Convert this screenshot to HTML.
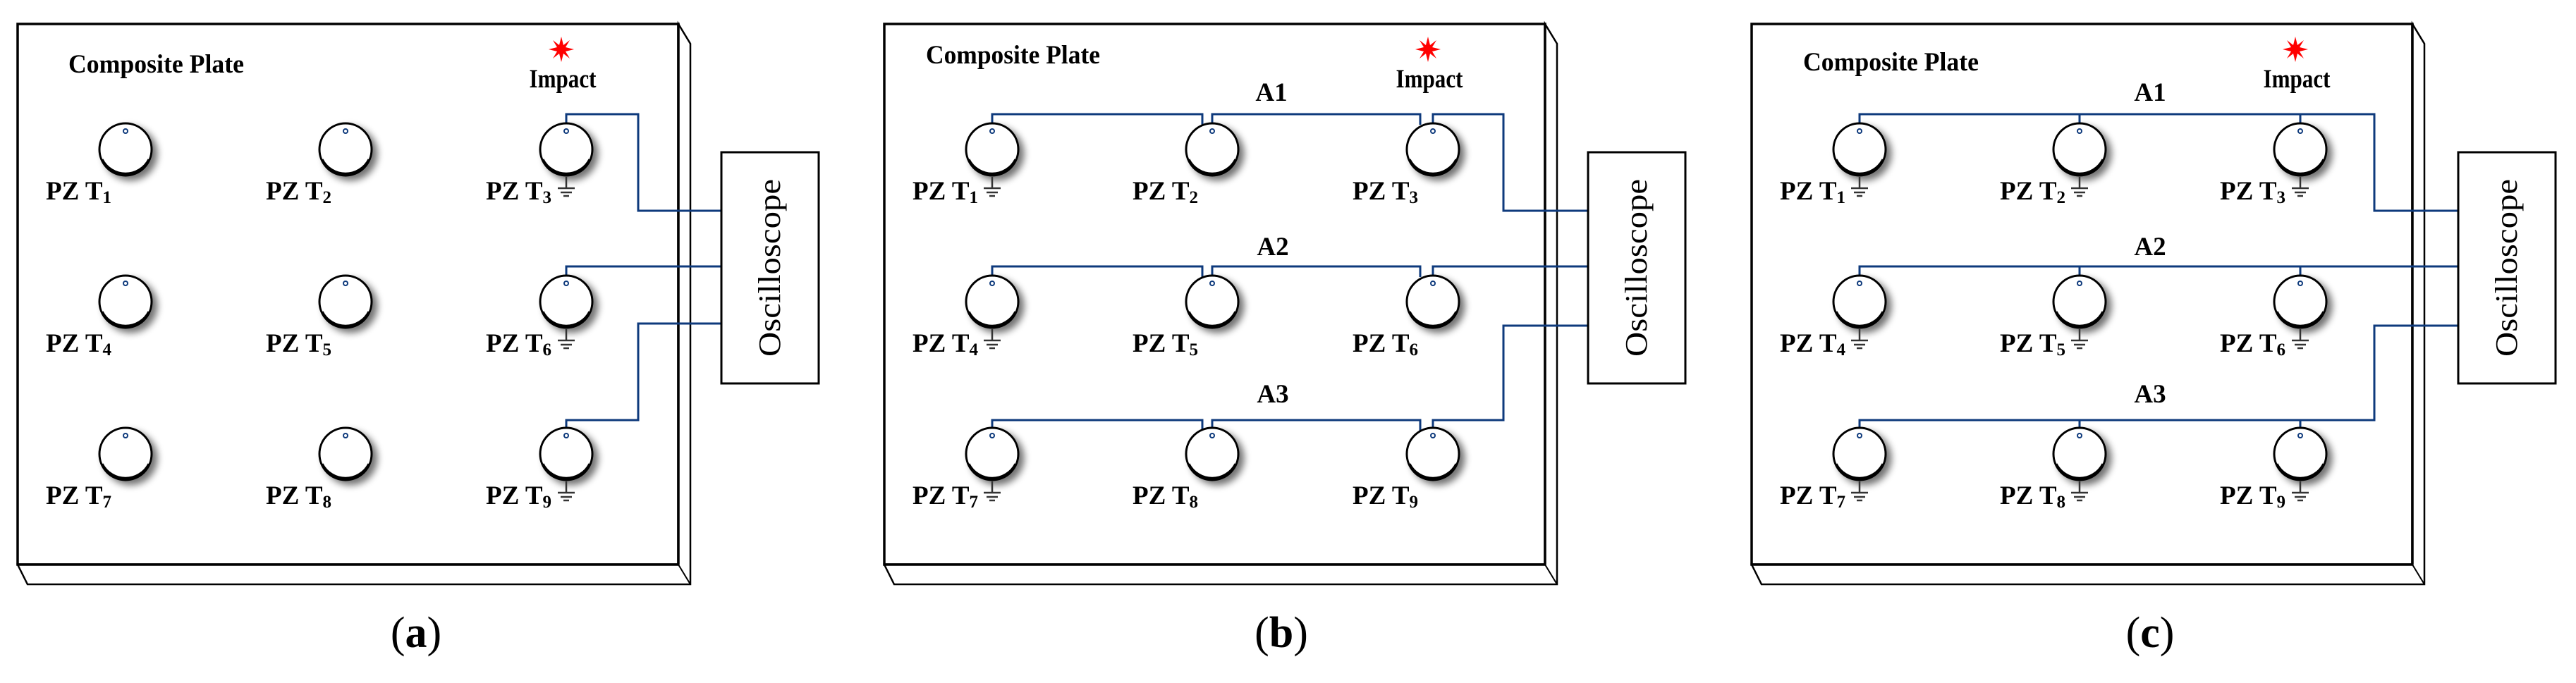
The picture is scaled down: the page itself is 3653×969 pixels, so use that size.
<!DOCTYPE html>
<html><head><meta charset="utf-8">
<style>
html,body{margin:0;padding:0;background:#fff;}
svg{display:block;font-family:"Liberation Serif","DejaVu Serif",serif;}
svg text{font-family:"Liberation Serif","DejaVu Serif",serif;}
.lbl{font-weight:bold;font-size:37px;fill:#000;}
.sub{font-size:25px;}
.w{fill:none;stroke:#0e3a7c;stroke-width:3;}
</style></head>
<body>
<svg width="3653" height="969" viewBox="0 0 3653 969" xmlns="http://www.w3.org/2000/svg">
<defs>
<filter id="sh" x="-50%" y="-50%" width="200%" height="200%">
<feGaussianBlur in="SourceAlpha" stdDeviation="5"/>
<feOffset dx="7" dy="6" result="b"/>
<feComponentTransfer><feFuncA type="linear" slope="0.55"/></feComponentTransfer>
<feMerge><feMergeNode/><feMergeNode in="SourceGraphic"/></feMerge>
</filter>
<g id="pzt">
<ellipse cx="0" cy="0" rx="37" ry="37" fill="#fff" stroke="#000" stroke-width="3" filter="url(#sh)"/>
<path d="M-33,14 A37,37 0 0 0 33,14" fill="none" stroke="#000" stroke-width="3"/>
<circle cx="0" cy="-26" r="3" fill="#fff" stroke="#0e3a7c" stroke-width="2"/>
</g>
<g id="gnd" stroke="#333" stroke-width="2.5">
<line x1="0" y1="39" x2="0" y2="55"/>
<line x1="-12" y1="55" x2="12" y2="55"/>
<line x1="-8" y1="61" x2="8" y2="61"/>
<line x1="-4" y1="66" x2="4" y2="66"/>
</g>
<g id="star" fill="#f00">
<polygon points="0,-18 3,-6 12,-13 6,-3 18,0 6,3 12,13 3,6 0,18 -3,6 -12,13 -6,3 -18,0 -6,-3 -12,-13 -3,-6"/>
</g>
<g id="plate">
<rect x="25" y="34" width="937" height="767" fill="#fff" stroke="#000" stroke-width="3.5"/>
<polygon points="25,801 39,829 979,829 979,62 962,34 962,801" fill="#fff" stroke="#000" stroke-width="2.5"/>
<line x1="962" y1="801" x2="979" y2="829" stroke="#000" stroke-width="2"/>
<line x1="25" y1="801" x2="962" y2="801" stroke="#000" stroke-width="3.5"/>
<line x1="962" y1="34" x2="962" y2="801" stroke="#000" stroke-width="3.5"/>
</g>
<g id="osc">
<rect x="1023" y="216" width="138" height="328" fill="#fff" stroke="#000" stroke-width="3"/>
<text transform="translate(1106,380) rotate(-90)" text-anchor="middle" font-size="44" textLength="252" lengthAdjust="spacingAndGlyphs">Oscilloscope</text>
</g>
<g id="pzts">
<use href="#pzt" x="178" y="212"/><use href="#pzt" x="490" y="212"/><use href="#pzt" x="803" y="212"/>
<use href="#pzt" x="178" y="428"/><use href="#pzt" x="490" y="428"/><use href="#pzt" x="803" y="428"/>
<use href="#pzt" x="178" y="644"/><use href="#pzt" x="490" y="644"/><use href="#pzt" x="803" y="644"/>
<text class="lbl" x="65" y="283">PZ T<tspan class="sub" dy="5">1</tspan></text>
<text class="lbl" x="377" y="283">PZ T<tspan class="sub" dy="5">2</tspan></text>
<text class="lbl" x="689" y="283">PZ T<tspan class="sub" dy="5">3</tspan></text>
<text class="lbl" x="65" y="499">PZ T<tspan class="sub" dy="5">4</tspan></text>
<text class="lbl" x="377" y="499">PZ T<tspan class="sub" dy="5">5</tspan></text>
<text class="lbl" x="689" y="499">PZ T<tspan class="sub" dy="5">6</tspan></text>
<text class="lbl" x="65" y="715">PZ T<tspan class="sub" dy="5">7</tspan></text>
<text class="lbl" x="377" y="715">PZ T<tspan class="sub" dy="5">8</tspan></text>
<text class="lbl" x="689" y="715">PZ T<tspan class="sub" dy="5">9</tspan></text>
<use href="#star" x="796" y="70"/>
<text class="lbl" x="798" y="124" text-anchor="middle" font-size="30" textLength="95" lengthAdjust="spacingAndGlyphs">Impact</text>
</g>
</defs>

<!-- Panel a -->
<g>
<use href="#plate"/>
<text class="lbl" x="97" y="103" font-size="34" textLength="249" lengthAdjust="spacingAndGlyphs">Composite Plate</text>
<path class="w" d="M803,186 V162 H905 V299 H1023"/>
<path class="w" d="M803,402 V378 H1023"/>
<path class="w" d="M803,618 V596 H905 V459 H1023"/>
<use href="#pzts"/>
<use href="#gnd" x="803" y="212"/><use href="#gnd" x="803" y="428"/><use href="#gnd" x="803" y="644"/>
<use href="#osc"/>
<text x="590" y="918" text-anchor="middle" font-size="62">(<tspan font-weight="bold">a</tspan>)</text>
</g>

<!-- Panel b -->
<g transform="translate(1229,0)">
<use href="#plate"/>
<text class="lbl" x="84" y="90" font-size="34" textLength="247" lengthAdjust="spacingAndGlyphs">Composite Plate</text>
<path class="w" d="M178,186 V162 H476 V177"/>
<path class="w" d="M490,186 V162 H785 V177"/>
<path class="w" d="M803,186 V162 H903 V299 H1023"/>
<path class="w" d="M178,402 V378 H476 V393"/>
<path class="w" d="M490,402 V378 H785 V393"/>
<path class="w" d="M803,402 V378 H1023"/>
<path class="w" d="M178,618 V596 H476 V611"/>
<path class="w" d="M490,618 V596 H785 V611"/>
<path class="w" d="M803,618 V596 H903 V462 H1023"/>
<use href="#pzts"/>
<use href="#gnd" x="178" y="212"/><use href="#gnd" x="178" y="428"/><use href="#gnd" x="178" y="644"/>
<text class="lbl" x="574" y="143" text-anchor="middle">A1</text>
<text class="lbl" x="576" y="362" text-anchor="middle">A2</text>
<text class="lbl" x="576" y="571" text-anchor="middle">A3</text>
<use href="#osc"/>
<text x="588" y="918" text-anchor="middle" font-size="62">(<tspan font-weight="bold">b</tspan>)</text>
</g>

<!-- Panel c -->
<g transform="translate(2459,0)">
<use href="#plate"/>
<text class="lbl" x="98" y="100" font-size="34" textLength="249" lengthAdjust="spacingAndGlyphs">Composite Plate</text>
<path class="w" d="M178,186 V162 H908 V299 H1027"/>
<path class="w" d="M490,186 V162 M803,186 V162"/>
<path class="w" d="M178,402 V378 H1027"/>
<path class="w" d="M490,402 V378 M803,402 V378"/>
<path class="w" d="M178,618 V596 H908 V462 H1027"/>
<path class="w" d="M490,618 V596 M803,618 V596"/>
<use href="#pzts"/>
<use href="#gnd" x="178" y="212"/><use href="#gnd" x="490" y="212"/><use href="#gnd" x="803" y="212"/>
<use href="#gnd" x="178" y="428"/><use href="#gnd" x="490" y="428"/><use href="#gnd" x="803" y="428"/>
<use href="#gnd" x="178" y="644"/><use href="#gnd" x="490" y="644"/><use href="#gnd" x="803" y="644"/>
<text class="lbl" x="590" y="143" text-anchor="middle">A1</text>
<text class="lbl" x="590" y="362" text-anchor="middle">A2</text>
<text class="lbl" x="590" y="571" text-anchor="middle">A3</text>
<g transform="translate(4,0)"><use href="#osc"/></g>
<text x="590" y="918" text-anchor="middle" font-size="62">(<tspan font-weight="bold">c</tspan>)</text>
</g>
</svg>
</body></html>
